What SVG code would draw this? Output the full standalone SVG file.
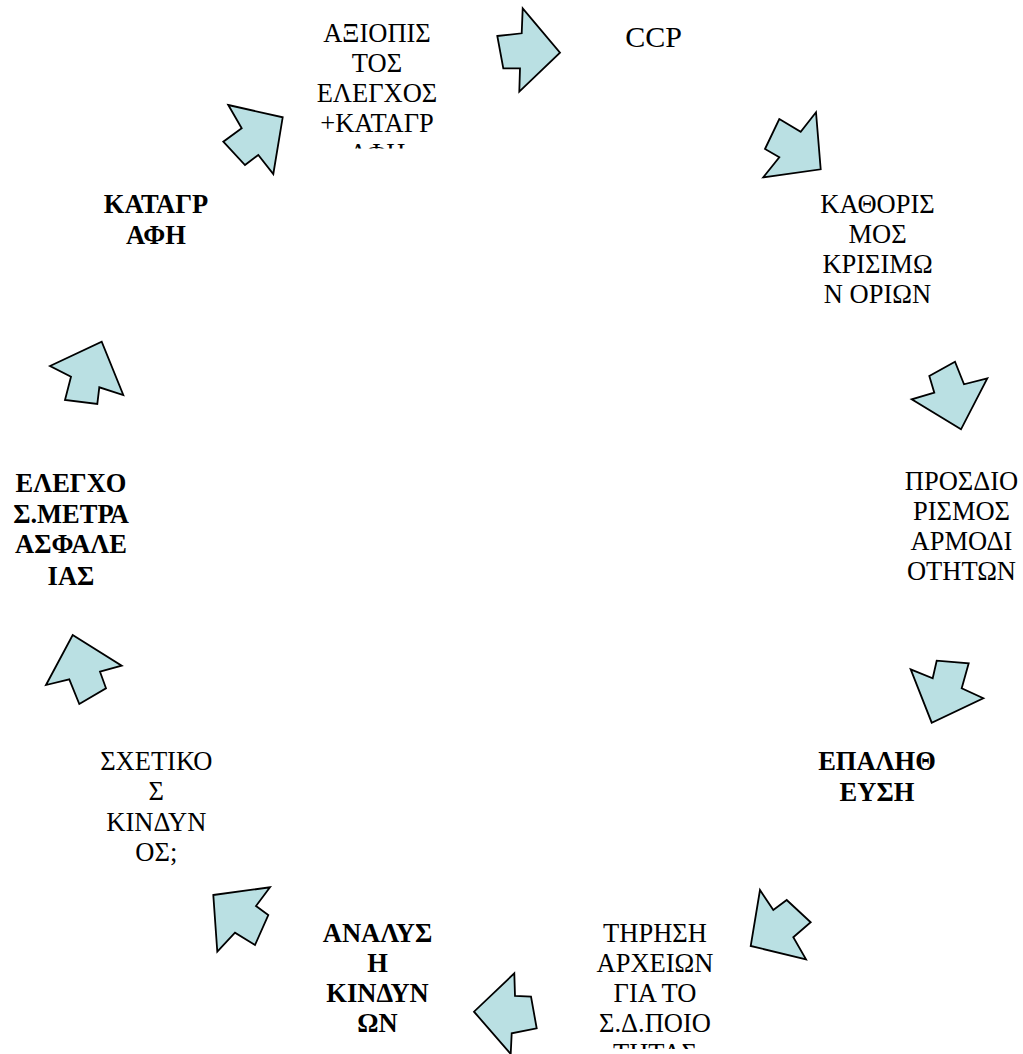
<svg xmlns="http://www.w3.org/2000/svg" width="1023" height="1054" viewBox="0 0 1023 1054">
<style>
.arr{fill:#bae0e3;stroke:#000;stroke-width:1.8;stroke-linejoin:miter}
text{font-family:"Liberation Serif","Times New Roman",serif;font-size:26.5px;fill:#000;text-anchor:middle}
.b{font-weight:bold}
.ccp{font-size:30px}
</style>
<defs>
<clipPath id="clipTop"><rect x="250" y="0" width="260" height="148.5"/></clipPath>
<clipPath id="clipBot"><rect x="540" y="900" width="240" height="149"/></clipPath>
</defs>
<rect width="1023" height="1054" fill="#fff"/>
<g id="connectors">
<polygon class="arr" points="497.3,36 521.7,33.3 522.7,8.3 560,52.7 519.3,91.7 520,68.3 503.3,68.3"/>
<polygon class="arr" points="779.3,119 800.7,131.7 816,112.3 820.7,169.3 763.3,177.3 779.3,157.3 765,149"/>
<polygon class="arr" points="929.3,376 955,361.7 964,384.3 987.3,378.3 961,429.3 911.7,399.3 934.3,392.7"/>
<polygon class="arr" points="910.7,669.3 932.7,678.3 936.7,660.7 968.7,663.3 961.7,688.3 983.3,698.3 931.7,722.7"/>
<polygon class="arr" points="760,890 773.3,910 786.7,900 810.7,922.3 793.3,937.3 806,959.3 750.7,946"/>
<polygon class="arr" points="514.3,973.3 515,996 531,996.7 536.7,1028.3 511.7,1033.3 510.7,1054 474,1011.7"/>
<polygon class="arr" points="213.3,895 270,887.3 256,906 268.3,915 255,945 235,932.7 217.3,951.7"/>
<polygon class="arr" points="72.7,635 121.7,665.7 100,671.7 106,688.3 79.3,704 69.3,679.3 46,685"/>
<polygon class="arr" points="50,366 101.7,341.7 123.3,395 99.3,387.3 97.3,404 65,400 71,376.7"/>
<polygon class="arr" points="228.3,105 282.7,117.3 273.3,174 258.3,155 245,165 223.3,141.7 241.7,128.3"/>
</g>
<g id="node-axiopistos" clip-path="url(#clipTop)">
<text x="377" y="41.7">ΑΞΙΟΠΙΣ</text>
<text x="377" y="71.7">ΤΟΣ</text>
<text x="377" y="101.7">ΕΛΕΓΧΟΣ</text>
<text x="377" y="131.7">+ΚΑΤΑΓΡ</text>
<text x="377" y="161.7">ΑΦΗ</text>
</g>
<g id="node-ccp">
<text class="ccp" x="653.5" y="46.7">CCP</text>
</g>
<g id="node-kathorismos">
<text x="877.5" y="212.7">ΚΑΘΟΡΙΣ</text>
<text x="877.5" y="242.7">ΜΟΣ</text>
<text x="877.5" y="272.7">ΚΡΙΣΙΜΩ</text>
<text x="877.5" y="302.7">Ν ΟΡΙΩΝ</text>
</g>
<g id="node-prosdiorismos">
<text x="961.5" y="490">ΠΡΟΣΔΙΟ</text>
<text x="961.5" y="520">ΡΙΣΜΟΣ</text>
<text x="961.5" y="550">ΑΡΜΟΔΙ</text>
<text x="961.5" y="580">ΟΤΗΤΩΝ</text>
</g>
<g id="node-epalitheusi">
<text class="b" x="877" y="770">ΕΠΑΛΗΘ</text>
<text class="b" x="877" y="801">ΕΥΣΗ</text>
</g>
<g id="node-tirisi" clip-path="url(#clipBot)">
<text x="655" y="941.7">ΤΗΡΗΣΗ</text>
<text x="655" y="971.7">ΑΡΧΕΙΩΝ</text>
<text x="655" y="1001.7">ΓΙΑ ΤΟ</text>
<text x="655" y="1031.7">Σ.Δ.ΠΟΙΟ</text>
<text x="655" y="1061.7">ΤΗΤΑΣ</text>
</g>
<g id="node-analysi">
<text class="b" x="377.5" y="941.7">ΑΝΑΛΥΣ</text>
<text class="b" x="377.5" y="971.7">Η</text>
<text class="b" x="377.5" y="1001.7">ΚΙΝΔΥΝ</text>
<text class="b" x="377.5" y="1031.7">ΩΝ</text>
</g>
<g id="node-sxetikos">
<text x="156.3" y="770">ΣΧΕΤΙΚΟ</text>
<text x="156.3" y="800">Σ</text>
<text x="156.3" y="830.5">ΚΙΝΔΥΝ</text>
<text x="156.3" y="861">ΟΣ;</text>
</g>
<g id="node-elegxos">
<text class="b" x="71" y="491.7">ΕΛΕΓΧΟ</text>
<text class="b" x="71" y="522.5">Σ.ΜΕΤΡΑ</text>
<text class="b" x="71" y="553.3">ΑΣΦΑΛΕ</text>
<text class="b" x="71" y="584.5">ΙΑΣ</text>
</g>
<g id="node-katagrafi">
<text class="b" x="156" y="213.3">ΚΑΤΑΓΡ</text>
<text class="b" x="156" y="244">ΑΦΗ</text>
</g>
</svg>
